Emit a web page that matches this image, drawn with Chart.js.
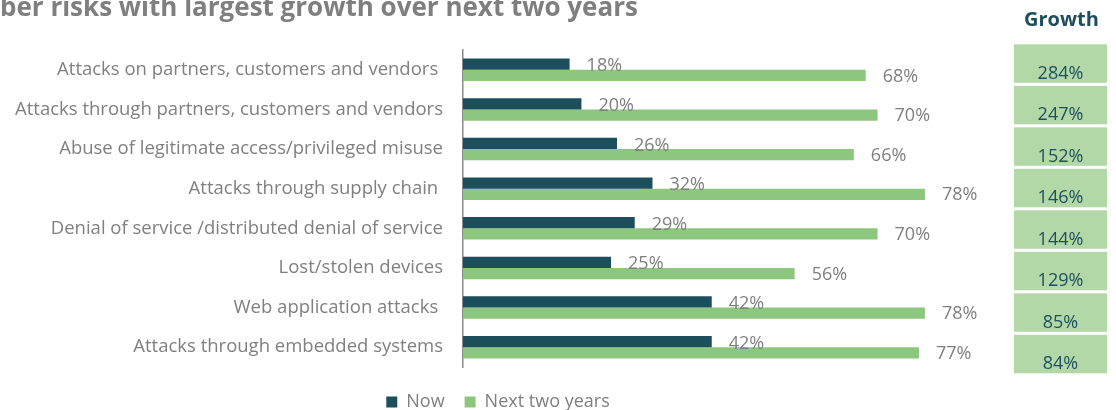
<!DOCTYPE html>
<html>
<head>
<meta charset="utf-8">
<script src="https://cdn.jsdelivr.net/npm/chart.js@4/dist/chart.umd.min.js"></script>
<style>
  html, body { margin: 0; padding: 0; background: #fff; }
  #wrap { position: relative; width: 1116px; height: 410px; }
</style>
</head>
<body>
<div id="wrap"><canvas id="riskChart" width="1116" height="410"></canvas></div>
<script>
// chart data
const categories = [
  'Attacks on partners, customers and vendors ',
  'Attacks through partners, customers and vendors',
  'Abuse of legitimate access/privileged misuse',
  'Attacks through supply chain ',
  'Denial of service /distributed denial of service',
  'Lost/stolen devices',
  'Web application attacks ',
  'Attacks through embedded systems'
];
const nowValues = [18, 20, 26, 32, 29, 25, 42, 42];
const nextValues = [68, 70, 66, 78, 70, 56, 78, 77];
const growthLabels = ['284%', '247%', '152%', '146%', '144%', '129%', '85%', '84%'];

const FONT = "'Open Sans', 'DejaVu Sans', sans-serif";

// value labels, growth column and titles
const extras = {
  id: 'extras',
  afterDatasetsDraw(chart) {
    const ctx = chart.ctx;
    ctx.save();
    ctx.font = '18px ' + FONT;
    ctx.fillStyle = '#7f7f7f';
    ctx.textAlign = 'left';
    ctx.textBaseline = 'middle';
    chart.data.datasets.forEach((ds, di) => {
      chart.getDatasetMeta(di).data.forEach((bar, i) => {
        ctx.fillText(ds.data[i] + '%', bar.x + 17, bar.y + (di === 0 ? 2 : 1));
      });
    });
    ctx.restore();
  },
  afterDraw(chart) {
    const ctx = chart.ctx;
    const g = chart.scales.g;
    ctx.save();
    // title (cut off at the left like the source)
    ctx.font = 'bold 26px ' + FONT;
    ctx.fillStyle = '#7f7f7f';
    ctx.textAlign = 'left';
    ctx.textBaseline = 'alphabetic';
    const cut = ctx.measureText('Cy').width;
    ctx.fillText('Cyber risks with largest growth over next two years', -cut, 16);

    // growth column
    const left = 1014, w = 93;
    ctx.font = 'bold 20px ' + FONT;
    ctx.fillStyle = '#1f4e5f';
    ctx.textAlign = 'center';
    ctx.fillText('Growth', left + w / 2 + 1, 26);
    ctx.font = '18px ' + FONT;
    growthLabels.forEach((txt, i) => {
      const top = g.getPixelForValue(i);
      const bottom = g.getPixelForValue(i + 1) - 3;
      ctx.fillStyle = '#b3d8a8';
      ctx.fillRect(left, top, w, bottom - top);
      ctx.fillStyle = '#1f4e5f';
      ctx.fillText(txt, left + w / 2, bottom - 4);
    });
    ctx.restore();
  }
};

new Chart(document.getElementById('riskChart'), {
  type: 'bar',
  data: {
    labels: categories,
    datasets: [
      { label: 'Now', data: nowValues, backgroundColor: '#1c4e5c' },
      { label: 'Next two years', data: nextValues, backgroundColor: '#8dc67e' }
    ]
  },
  options: {
    indexAxis: 'y',
    responsive: false,
    animation: false,
    events: [],
    categoryPercentage: 0.57,
    barPercentage: 1.0,
    layout: { padding: { top: 50, right: 120, bottom: -11, left: 0 } },
    scales: {
      x: { display: false, min: 0, max: 90 },
      y: {
        grid: { display: false, drawTicks: false },
        border: { display: true, color: '#8a8a8a', width: 1.5 },
        ticks: { color: '#808080', font: { family: FONT, size: 18.5 }, padding: 20 },
        afterFit(scale) { scale.width = 463; }
      },
      // hidden scale that places the growth boxes
      g: { type: 'linear', axis: 'y', display: false, offset: false, reverse: true, min: 0.137, max: 7.776 }
    },
    plugins: {
      legend: {
        position: 'bottom',
        title: { display: true, text: ' ', font: { size: 1 }, padding: { top: 4.8, bottom: 0 } },
        labels: {
          boxWidth: 11, boxHeight: 11, padding: 20,
          color: '#7f7f7f', font: { family: FONT, size: 18 }
        }
      },
      tooltip: { enabled: false }
    }
  },
  plugins: [extras]
});
</script>
</body>
</html>
